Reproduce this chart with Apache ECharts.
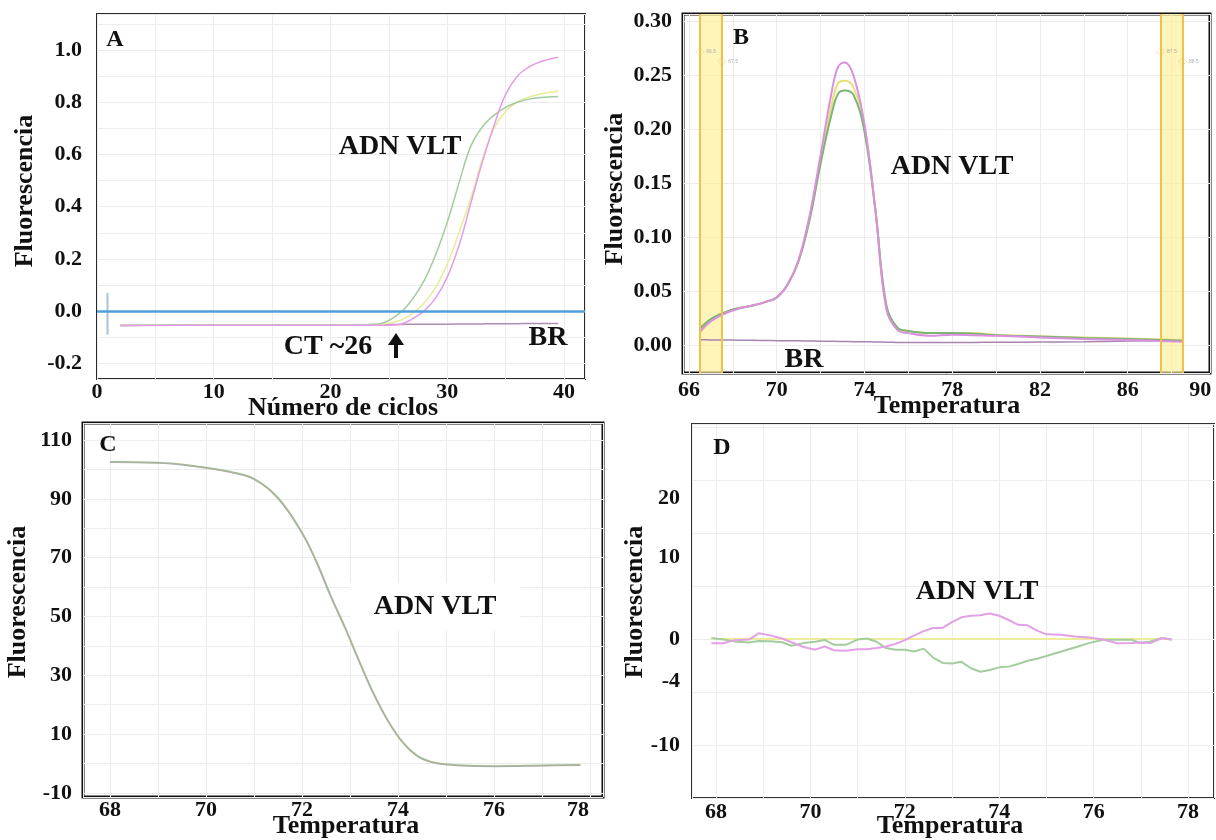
<!DOCTYPE html>
<html>
<head>
<meta charset="utf-8">
<title>ADN VLT - amplificación y fusión</title>
<script src="https://cdn.jsdelivr.net/npm/echarts@6.0.0/dist/echarts.min.js"></script>
<style>
  html, body { margin: 0; padding: 0; background: #fff; }
  #grafico { width: 1216px; height: 840px; }
</style>
</head>
<body>
<div id="grafico"></div>
<script>
// ---- Panel A: curvas de amplificación ----
const ciclos = [2, 5, 10, 15, 20, 23, 24.5, 26, 27, 28, 29, 30, 31, 32, 33, 34, 35, 36, 37, 38, 39.5];
const ampVerde = [-0.055, -0.054, -0.053, -0.053, -0.053, -0.052, -0.045, -0.005, 0.045, 0.115, 0.215, 0.34, 0.49, 0.63, 0.705, 0.75, 0.78, 0.8, 0.812, 0.818, 0.822];
const ampAmarillo = [-0.055, -0.054, -0.053, -0.053, -0.053, -0.053, -0.05, -0.035, -0.01, 0.03, 0.09, 0.18, 0.3, 0.43, 0.58, 0.7, 0.765, 0.8, 0.82, 0.832, 0.842];
const ampRosa = [-0.055, -0.055, -0.054, -0.054, -0.054, -0.054, -0.054, -0.05, -0.03, 0.0, 0.05, 0.13, 0.25, 0.41, 0.57, 0.71, 0.83, 0.9, 0.935, 0.955, 0.972];
const ampBR = [-0.055, -0.054, -0.053, -0.053, -0.052, -0.052, -0.051, -0.051, -0.05, -0.05, -0.05, -0.05, -0.049, -0.049, -0.049, -0.048, -0.048, -0.048, -0.047, -0.047, -0.047];
const umbral = 0;
const marcadorX = 0.9;
const marcadorY = [0.07, -0.09];
const etiquetasCiclos = [0, 10, 20, 30, 40];
const etiquetasA = [-0.2, 0, 0.2, 0.4, 0.6, 0.8, 1.0];

// ---- Panel B: derivada de fusión ----
const tempB = [66.5, 67, 67.5, 68, 68.5, 69, 69.5, 70, 70.5, 71, 71.5, 72, 72.5, 72.8, 73.1, 73.5, 74, 74.5, 75, 75.5, 76, 77, 78, 79, 80, 82, 84, 86, 88.5];
const fusVerde = [0.015, 0.024, 0.029, 0.033, 0.035, 0.037, 0.04, 0.044, 0.056, 0.078, 0.116, 0.168, 0.214, 0.233, 0.236, 0.232, 0.198, 0.125, 0.037, 0.016, 0.013, 0.011, 0.011, 0.0105, 0.009, 0.0078, 0.0065, 0.0055, 0.004];
const fusAmarillo = [0.016, 0.024, 0.029, 0.033, 0.035, 0.037, 0.04, 0.044, 0.056, 0.078, 0.118, 0.17, 0.222, 0.243, 0.245, 0.239, 0.202, 0.125, 0.035, 0.016, 0.013, 0.011, 0.011, 0.011, 0.0095, 0.008, 0.007, 0.006, 0.0045];
const fusRosa = [0.012, 0.022, 0.028, 0.032, 0.035, 0.037, 0.04, 0.044, 0.056, 0.079, 0.12, 0.176, 0.234, 0.258, 0.262, 0.25, 0.205, 0.125, 0.033, 0.014, 0.011, 0.0085, 0.0095, 0.009, 0.0085, 0.007, 0.0055, 0.0045, 0.003];
const fusBR = [0.0048, 0.0047, 0.0046, 0.0045, 0.0044, 0.0043, 0.0042, 0.004, 0.0039, 0.0038, 0.0037, 0.0035, 0.0034, 0.0033, 0.0032, 0.0031, 0.003, 0.0028, 0.0026, 0.0024, 0.0022, 0.0022, 0.0023, 0.0024, 0.0025, 0.0027, 0.003, 0.0036, 0.0045];
const bandas = [[66.5, 67.5], [87.5, 88.5]];
const bordes = [66.5, 67.5, 87.5, 88.5];
const bordesY = [0.272, 0.263, 0.272, 0.263];
const etiquetasB = [0, 0.05, 0.10, 0.15, 0.20, 0.25, 0.30];
const posTempB = [66, 70, 74, 78, 82, 86, 89.3];
const textoTempB = ['66', '70', '74', '78', '82', '86', '90'];

// ---- Panel C: curva de fusión normalizada ----
const tempC = [68, 69, 70, 70.5, 71, 71.5, 72, 72.3, 72.6, 72.9, 73.2, 73.5, 73.8, 74.1, 74.4, 74.7, 75, 75.5, 76, 77, 77.8];
const normVerde = [102.5, 102.3, 100.6, 99.2, 96.8, 90.3, 78.5, 68.7, 56.9, 46.1, 34.5, 23.5, 14.3, 7.2, 2.6, 0.5, -0.3, -0.8, -0.9, -0.7, -0.5];
const normRosa = [102.4, 102.2, 100.5, 99.0, 96.6, 90.0, 78.2, 68.4, 56.7, 45.9, 34.3, 23.3, 14.2, 7.1, 2.5, 0.4, -0.4, -0.9, -1.0, -0.8, -0.6];
const etiquetasC = [-10, 10, 30, 50, 70, 90, 110];
const posTempC = [68, 70, 72, 74, 76, 77.75];
const textoTempC = ['68', '70', '72', '74', '76', '78'];

// ---- Panel D: diferencia ----
const tempD = [67.9, 68.15, 68.4, 68.7, 68.9, 69.15, 69.4, 69.6, 69.85, 70.1, 70.3, 70.5, 70.75, 71.0, 71.2, 71.4, 71.6, 71.8, 72.0, 72.2, 72.4, 72.6, 72.8, 73.0, 73.2, 73.4, 73.6, 73.8, 74.0, 74.2, 74.4, 74.6, 74.8, 75.0, 75.3, 75.6, 75.9, 76.2, 76.5, 76.8, 77.0, 77.2, 77.45, 77.65];
const difRosa = [-0.4, -0.4, -0.1, -0.05, 0.55, 0.35, 0.05, -0.3, -0.75, -1.0, -0.7, -1.05, -1.1, -0.95, -0.95, -0.85, -0.7, -0.45, -0.1, 0.35, 0.75, 1.05, 1.05, 1.6, 2.05, 2.2, 2.25, 2.42, 2.2, 1.8, 1.35, 1.3, 0.8, 0.45, 0.4, 0.25, 0.15, -0.05, -0.4, -0.38, -0.32, -0.38, 0.1, -0.05];
const difVerde = [0.1, -0.05, -0.22, -0.32, -0.18, -0.2, -0.3, -0.63, -0.38, -0.25, -0.08, -0.54, -0.54, -0.05, 0.06, -0.25, -0.85, -1.0, -1.0, -1.17, -0.9, -1.75, -2.25, -2.3, -2.15, -2.75, -3.08, -2.92, -2.67, -2.6, -2.35, -2.05, -1.85, -1.6, -1.2, -0.8, -0.38, -0.06, -0.06, -0.06, -0.38, -0.22, 0.1, -0.06];
const difReferencia = 0;
const posEtiquetasD = [13.3, 7.7, 0, -4, -10];
const textoEtiquetasD = ['20', '10', '0', '-4', '-10'];
const etiquetasTempD = [68, 70, 72, 74, 76, 78];

const pares = (xs, ys) => xs.map((x, i) => [x, ys[i]]);

const fuente = 'Liberation Serif, Times New Roman, serif';
const estiloEtiqueta = { fontFamily: fuente, fontWeight: 'bold', fontSize: 22, color: '#111' };
const rejilla = { show: true, lineStyle: { color: '#ececec', width: 1 } };

function ejeX(idx, min, max, extra) {
  return Object.assign({
    type: 'value', gridIndex: idx, min: min, max: max,
    axisLine: { show: false }, axisTick: { show: false },
    splitLine: rejilla
  }, extra);
}

function linea(nombre, eje, datos, color, ancho, suave) {
  return {
    name: nombre, type: 'line', xAxisIndex: eje, yAxisIndex: eje,
    data: datos, showSymbol: false, smooth: suave, silent: true,
    lineStyle: { color: color, width: ancho }, itemStyle: { color: color }
  };
}

function texto(x, y, t, tam, extra) {
  return {
    type: 'text', x: x, y: y, z: 100,
    style: Object.assign({
      text: t, font: 'bold ' + tam + 'px ' + fuente, fill: '#111',
      textAlign: 'center', textVerticalAlign: 'middle', align: 'center', verticalAlign: 'middle'
    }, extra || {})
  };
}

function vertical(x, y, t) {
  const el = texto(x, y, t, 26);
  el.rotation = Math.PI / 2;
  return el;
}

const grafico = echarts.init(document.getElementById('grafico'), null, { renderer: 'canvas' });

const opcion = {
  animation: false,
  backgroundColor: '#fff',
  grid: [
    { left: 97, top: 14, width: 488, height: 365, show: true, borderColor: '#2a2a2a', borderWidth: 2 },
    { left: 683, top: 14, width: 527, height: 359, show: true, borderColor: '#111', borderWidth: 3 },
    { left: 83, top: 423, width: 520, height: 374, show: true, borderColor: '#111', borderWidth: 3 },
    { left: 692, top: 424, width: 522, height: 374, show: true, borderColor: '#333', borderWidth: 2 }
  ],
  xAxis: [
    ejeX(0, 0, 41.8, {
      interval: 5,
      axisLabel: Object.assign({ customValues: etiquetasCiclos, margin: 2 }, estiloEtiqueta)
    }),
    ejeX(1, 65.73, 89.75, {
      splitNumber: 12,
      axisLabel: Object.assign({
        customValues: posTempB, margin: 6,
        formatter: v => textoTempB[posTempB.indexOf(v)]
      }, estiloEtiqueta)
    }),
    ejeX(2, 67.44, 78.27, {
      splitNumber: 10,
      axisLabel: Object.assign({
        customValues: posTempC, margin: 2,
        formatter: v => textoTempC[posTempC.indexOf(v)]
      }, estiloEtiqueta)
    }),
    ejeX(3, 67.49, 78.55, {
      splitNumber: 11,
      axisLabel: Object.assign({ customValues: etiquetasTempD, margin: 3 }, estiloEtiqueta)
    })
  ],
  yAxis: [
    ejeX(0, -0.26, 1.138, {
      splitNumber: 14,
      axisLabel: Object.assign({ customValues: etiquetasA, margin: 15, formatter: v => v.toFixed(1) }, estiloEtiqueta)
    }),
    ejeX(1, -0.026, 0.307, {
      splitNumber: 6,
      axisLabel: Object.assign({ customValues: etiquetasB, margin: 11, formatter: v => v.toFixed(2) }, estiloEtiqueta)
    }),
    ejeX(2, -11.4, 115.8, {
      splitNumber: 13,
      axisLabel: Object.assign({ customValues: etiquetasC, margin: 11 }, estiloEtiqueta)
    }),
    ejeX(3, -15, 20.3, {
      interval: 5,
      axisLabel: Object.assign({
        customValues: posEtiquetasD, margin: 12,
        formatter: v => textoEtiquetasD[posEtiquetasD.indexOf(v)]
      }, estiloEtiqueta)
    })
  ],
  series: [
    // A
    Object.assign(linea('BR', 0, pares(ciclos, ampBR), '#ae8cb4', 1.5, 0.3), {
      markLine: {
        silent: true, symbol: 'none', label: { show: false },
        lineStyle: { color: '#4f9fd8', width: 2.5, type: 'solid' },
        data: [{ yAxis: umbral }]
      }
    }),
    linea('marcador', 0, marcadorY.map(y => [marcadorX, y]), '#a9c2d4', 2, false),
    linea('Amarillo A', 0, pares(ciclos, ampAmarillo), '#e8eb9a', 1.5, 0.4),
    linea('Verde A', 0, pares(ciclos, ampVerde), '#a2cc9d', 1.5, 0.4),
    linea('Rosa A', 0, pares(ciclos, ampRosa), '#e59de7', 1.5, 0.4),
    // B
    Object.assign(linea('BR', 1, pares(tempB, fusBR), '#a984b0', 1.5, 0.3), {
      markArea: {
        silent: true,
        itemStyle: { color: 'rgba(255, 240, 150, 0.65)' },
        data: bandas.map(b => [{ xAxis: b[0] }, { xAxis: b[1] }])
      },
      markLine: {
        silent: true, symbol: 'none', label: { show: false },
        lineStyle: { color: '#f0c24a', width: 2, type: 'solid' },
        data: bordes.map(x => ({ xAxis: x }))
      }
    }),
    {
      name: 'bordes', type: 'scatter', xAxisIndex: 1, yAxisIndex: 1, silent: true,
      data: pares(bordes, bordesY), symbol: 'diamond', symbolSize: 8,
      itemStyle: { color: 'rgba(255,255,255,0)', borderColor: '#ecd08a', borderWidth: 0.8 },
      label: { show: true, position: 'right', distance: 2, fontSize: 5, color: '#999', formatter: p => p.value[0].toFixed(1) }
    },
    linea('Amarillo B', 1, pares(tempB, fusAmarillo), '#e6df78', 2, 0.4),
    linea('Verde B', 1, pares(tempB, fusVerde), '#7bb571', 2, 0.4),
    linea('Rosa B', 1, pares(tempB, fusRosa), '#db8fe0', 2, 0.4),
    // C
    linea('Verde C', 2, pares(tempC, normVerde), '#9ebf8c', 2, 0.4),
    Object.assign(linea('Rosa C', 2, pares(tempC, normRosa), '#c49bc4', 1, 0.4), { lineStyle: { color: '#c49bc4', width: 1, opacity: 0.6 } }),
    // D
    linea('Referencia D', 3, [[tempD[0], difReferencia], [tempD[tempD.length - 1], difReferencia]], '#ecec9c', 2, false),
    linea('Verde D', 3, pares(tempD, difVerde), '#a3cd9e', 2, false),
    linea('Rosa D', 3, pares(tempD, difRosa), '#e2a0e5', 2, false)
  ],
  graphic: [
    // A
    texto(115, 40, 'A', 24),
    texto(400, 147, 'ADN VLT', 28),
    texto(328, 347, 'CT ~26', 28),
    { type: 'rect', z: 100, shape: { x: 394, y: 342, width: 4, height: 16 }, style: { fill: '#111' } },
    { type: 'polygon', z: 100, shape: { points: [[388, 345], [396, 333], [404, 345]] }, style: { fill: '#111' } },
    texto(548, 338, 'BR', 28),
    vertical(25, 191, 'Fluorescencia'),
    texto(343, 408, 'Número de ciclos', 26),
    // B
    texto(741, 38, 'B', 24),
    texto(952, 167, 'ADN VLT', 28),
    texto(804, 360, 'BR', 28),
    vertical(615, 189, 'Fluorescencia'),
    texto(947, 406, 'Temperatura', 26),
    // C
    texto(108, 445, 'C', 24),
    texto(435, 607, 'ADN VLT', 28, { backgroundColor: '#fff', padding: [10, 24] }),
    vertical(18, 602, 'Fluorescencia'),
    texto(346, 826, 'Temperatura', 26),
    // D
    texto(722, 448, 'D', 24),
    texto(977, 592, 'ADN VLT', 28),
    vertical(635, 602, 'Fluorescencia'),
    texto(950, 826, 'Temperatura', 26)
  ]
};

grafico.setOption(opcion);

window.addEventListener('resize', function() {
  if (grafico) grafico.resize();
});
</script>
</body>
</html>
